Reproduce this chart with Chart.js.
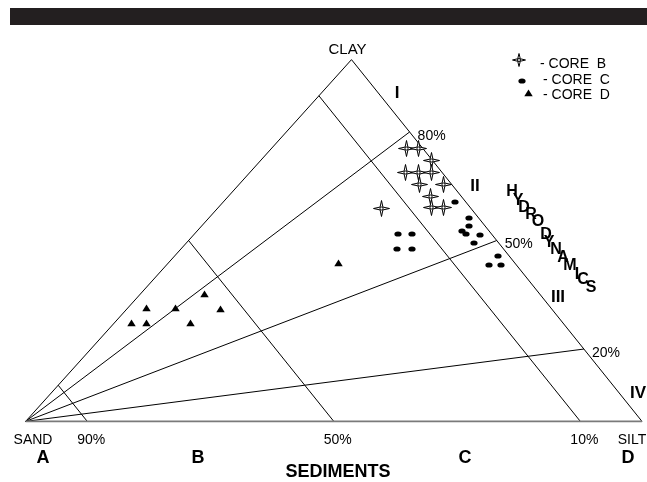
<!DOCTYPE html>
<html>
<head>
<meta charset="utf-8">
<script src="https://cdn.jsdelivr.net/npm/chart.js@4"></script>
<style>
body { margin: 0; background: #fff; }
#wrap { width: 647px; height: 482px; }
</style>
</head>
<body>
<div id="wrap"><canvas id="ternaryChart" width="647" height="482"></canvas></div>
<script>
// compositions, in % (sand is what is left)
const coreB_clay = [75.5, 75.5, 72.2, 68.7, 68.7, 68.7, 65.5, 65.5, 62.3, 59.0, 59.0, 58.8];
const coreB_silt = [21.9, 23.9, 27.7, 25.3, 27.5, 29.6, 29.2, 33.2, 32.8, 34.6, 36.6, 26.7];
const coreC_clay = [60.6, 56.1, 53.9, 52.6, 51.8, 51.5, 49.3, 45.8, 43.1, 43.1, 51.8, 51.8, 47.7, 47.7];
const coreC_silt = [37.7, 42.3, 43.4, 43.0, 44.1, 46.5, 46.7, 52.5, 52.4, 54.3, 33.0, 35.3, 35.1, 37.5];
const coreD_clay = [35.3, 31.3, 31.3, 31.0, 27.2, 27.2, 27.2, 43.7];
const coreD_silt = [10.4, 3.0, 7.8, 15.3, 2.8, 5.2, 12.4, 27.7];

// sand % lines and clay:silt ratio lines
const sandLines = [90, 50, 10];
const clayRatios = [80, 50, 20];
const zones = ['I', 'II', 'III', 'IV'];
const classes = ['A', 'B', 'C', 'D'];
const axisWord = 'HYDRODYNAMICS';

const APEX = 0.5287;   // where the clay corner sits along the base
const FONT = '"Liberation Sans", Arial, sans-serif';

function tern(silt, clay) {
    return { x: silt + clay * APEX, y: clay };
}

function makeStar(outer, inner) {
    const size = Math.ceil(outer * 2) + 3;
    const c = document.createElement('canvas');
    c.width = c.height = size;
    const g = c.getContext('2d');
    g.translate(size / 2, size / 2);
    g.beginPath();
    for (let i = 0; i < 8; i++) {
        const a = i * Math.PI / 4 - Math.PI / 2;
        const r = i % 2 ? inner : outer;
        g.lineTo(r * Math.cos(a), r * Math.sin(a));
    }
    g.closePath();
    g.fillStyle = '#fff';
    g.fill();
    g.strokeStyle = '#000';
    g.lineWidth = 1;
    g.stroke();
    g.beginPath();
    g.arc(0, 0, 1.5, 0, Math.PI * 2);
    g.stroke();
    return c;
}

function makeDot() {
    const c = document.createElement('canvas');
    c.width = 8; c.height = 6;
    const g = c.getContext('2d');
    g.beginPath();
    g.ellipse(4, 3, 3.6, 2.6, 0, 0, Math.PI * 2);
    g.fillStyle = '#000';
    g.fill();
    return c;
}

function makeTri() {
    const c = document.createElement('canvas');
    c.width = 9; c.height = 8;
    const g = c.getContext('2d');
    g.beginPath();
    g.moveTo(4.5, 0.5);
    g.lineTo(8.7, 7.2);
    g.lineTo(0.3, 7.2);
    g.closePath();
    g.fillStyle = '#000';
    g.fill();
    return c;
}

const starImg = makeStar(8, 2);
const starSmall = makeStar(6.5, 1.8);
const dotImg = makeDot();
const triImg = makeTri();

let datasets = [];

function seg(p, q, color, width) {
    datasets.push({
        data: [p, q],
        showLine: true,
        borderColor: color || '#000',
        borderWidth: width || 1,
        pointRadius: 0,
        order: 5
    });
}

// frame
seg(tern(0, 0), tern(100, 0), '#7a7a7a', 1.6);
seg(tern(100, 0), tern(0, 100));
seg(tern(0, 100), tern(0, 0));
sandLines.forEach(s => seg(tern(0, 100 - s), tern(100 - s, 0)));
clayRatios.forEach(r => seg(tern(0, 0), tern(100 - r, r)));

function core(silt, clay, img) {
    datasets.push({
        data: silt.map((s, i) => tern(s, clay[i])),
        pointStyle: img,
        pointRadius: 5,
        showLine: false,
        order: 1
    });
}

core(coreB_silt, coreB_clay, starImg);
core(coreC_silt, coreC_clay, dotImg);
core(coreD_silt, coreD_clay, triImg);

const textPlugin = {
    id: 'ternaryText',
    beforeDraw(chart) {
        const ctx = chart.ctx;
        ctx.save();
        ctx.fillStyle = '#fff';
        ctx.fillRect(0, 0, chart.width, chart.height);
        ctx.fillStyle = '#231f20';
        ctx.fillRect(10, 8, chart.width - 10, 17);
        ctx.restore();
    },
    beforeDatasetsDraw(chart) {
        // keep the marker images crisp at sub-pixel spots
        chart.ctx.imageSmoothingEnabled = false;
    },
    afterDatasetsDraw(chart) {
        chart.ctx.imageSmoothingEnabled = true;
    },
    afterDraw(chart) {
        const ctx = chart.ctx;
        const sx = chart.scales.x, sy = chart.scales.y;
        const px = p => [sx.getPixelForValue(p.x), sy.getPixelForValue(p.y)];
        ctx.save();
        ctx.fillStyle = '#000';
        ctx.textBaseline = 'middle';

        function txt(s, x, y, size, bold, align) {
            ctx.font = (bold ? 'bold ' : '') + size + 'px ' + FONT;
            ctx.textAlign = align || 'center';
            ctx.fillText(s, x, y);
        }

        // corners
        const top = px(tern(0, 100));
        txt('CLAY', top[0] - 4, top[1] - 10, 15);
        txt('SAND', 33, 440, 14);
        txt('SILT', 632, 440, 14);

        // sand % along the base
        sandLines.forEach(s => {
            const p = px(tern(100 - s, 0));
            txt(s + '%', p[0] + 4, 440, 14);
        });

        // clay:silt ratios along the right side
        clayRatios.forEach(r => {
            const p = px(tern(100 - r, r));
            txt(r + '%', p[0] + 8, p[1] + 4, 14, false, 'left');
        });

        // zones
        const zonePos = [[397, 93], [475, 186], [558, 297], [638, 393]];
        zones.forEach((z, i) => txt(z, zonePos[i][0], zonePos[i][1], 17, true));

        // sediment classes
        const classX = [43, 198, 465, 628];
        classes.forEach((c, i) => txt(c, classX[i], 458, 18, true));
        txt('SEDIMENTS', 338, 472, 18, true);

        // staggered axis word
        const wordPos = [[512, 192], [518, 201], [524, 208], [531, 215], [538, 222], [546, 235],
            [549, 243], [556, 250], [563, 258], [570, 266], [577, 275], [583, 280], [591, 288]];
        axisWord.split('').forEach((ch, i) => txt(ch, wordPos[i][0], wordPos[i][1], 16, true));

        // legend
        const leg = [[starSmall, 'CORE  B', 519, 60, 540, 64],
                     [dotImg, 'CORE  C', 522, 81, 543, 80],
                     [triImg, 'CORE  D', 528, 93, 543, 95]];
        ctx.imageSmoothingEnabled = false;
        leg.forEach(l => {
            ctx.drawImage(l[0], Math.round(l[2] - l[0].width / 2), Math.round(l[3] - l[0].height / 2));
            txt('- ' + l[1], l[4], l[5], 14, false, 'left');
        });
        ctx.restore();
    }
};

new Chart(document.getElementById('ternaryChart'), {
    type: 'scatter',
    data: { datasets: datasets },
    options: {
        responsive: false,
        animation: false,
        layout: { padding: 0 },
        scales: {
            x: { type: 'linear', min: -3.185, max: 99.84, display: false },
            y: { type: 'linear', min: -15.09, max: 114.82, display: false }
        },
        plugins: {
            legend: { display: false },
            tooltip: { enabled: false }
        },
        elements: { line: { tension: 0 } },
        clip: false
    },
    plugins: [textPlugin]
});
</script>
</body>
</html>
